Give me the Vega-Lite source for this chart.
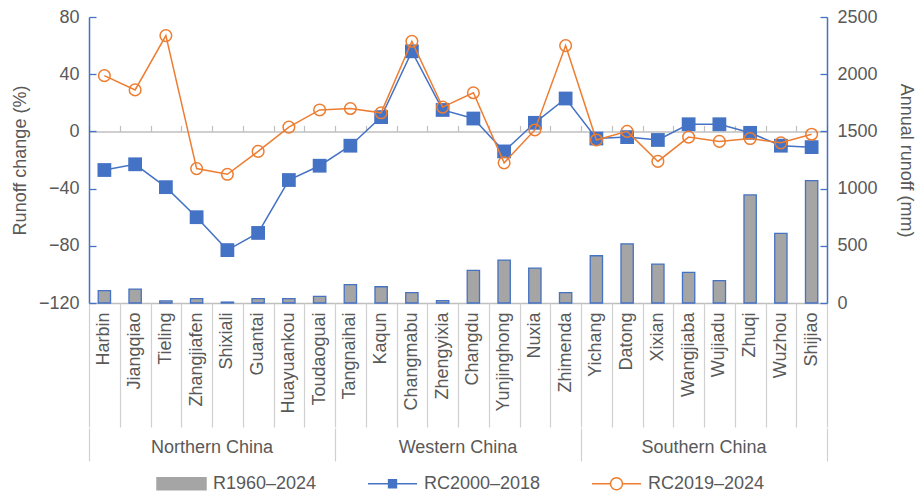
{
  "$schema": "https://vega.github.io/schema/vega-lite/v6.json",
  "background": "white",
  "padding": {"left": 11, "top": 8, "right": 2, "bottom": 0},
  "spacing": 0,
  "config": {
    "view": {"stroke": null},
    "font": "Liberation Sans",
    "axis": {"labelFont": "Liberation Sans", "labelFontSize": 18, "labelColor": "#595959", "titleFont": "Liberation Sans", "titleFontSize": 18, "titleColor": "#595959", "titleFontWeight": "normal", "grid": false},
    "text": {"font": "Liberation Sans"}
  },
  "vconcat": [
    {
      "width": 738,
      "height": 286,
      "data": {"values": [
        {"station": "Harbin", "group": "Northern China", "R": 108, "RC1": -27, "RC2": 39},
        {"station": "Jiangqiao", "group": "Northern China", "R": 122, "RC1": -23, "RC2": 29},
        {"station": "Tieling", "group": "Northern China", "R": 18, "RC1": -39, "RC2": 67},
        {"station": "Zhangjiafen", "group": "Northern China", "R": 38, "RC1": -60, "RC2": -26},
        {"station": "Shixiali", "group": "Northern China", "R": 8, "RC1": -83, "RC2": -30},
        {"station": "Guantai", "group": "Northern China", "R": 38, "RC1": -71, "RC2": -14},
        {"station": "Huayuankou", "group": "Northern China", "R": 38, "RC1": -34, "RC2": 3},
        {"station": "Toudaoguai", "group": "Northern China", "R": 58, "RC1": -24, "RC2": 15},
        {"station": "Tangnaihai", "group": "Western China", "R": 160, "RC1": -10, "RC2": 16},
        {"station": "Kaqun", "group": "Western China", "R": 142, "RC1": 10, "RC2": 13},
        {"station": "Changmabu", "group": "Western China", "R": 90, "RC1": 56, "RC2": 63},
        {"station": "Zhengyixia", "group": "Western China", "R": 20, "RC1": 15, "RC2": 17},
        {"station": "Changdu", "group": "Western China", "R": 285, "RC1": 9, "RC2": 27},
        {"station": "Yunjinghong", "group": "Western China", "R": 375, "RC1": -14, "RC2": -22},
        {"station": "Nuxia", "group": "Western China", "R": 305, "RC1": 6, "RC2": 1},
        {"station": "Zhimenda", "group": "Western China", "R": 90, "RC1": 23, "RC2": 60},
        {"station": "Yichang", "group": "Southern China", "R": 413, "RC1": -5, "RC2": -6},
        {"station": "Datong", "group": "Southern China", "R": 517, "RC1": -4, "RC2": 0},
        {"station": "Xixian", "group": "Southern China", "R": 340, "RC1": -6, "RC2": -21},
        {"station": "Wangjiaba", "group": "Southern China", "R": 267, "RC1": 5, "RC2": -4},
        {"station": "Wujiadu", "group": "Southern China", "R": 195, "RC1": 5, "RC2": -7},
        {"station": "Zhuqi", "group": "Southern China", "R": 945, "RC1": -1, "RC2": -5},
        {"station": "Wuzhou", "group": "Southern China", "R": 608, "RC1": -10, "RC2": -8},
        {"station": "Shijiao", "group": "Southern China", "R": 1070, "RC1": -11, "RC2": -2}
      ]},
      "resolve": {"scale": {"y": "independent"}, "axis": {"x": "independent", "y": "independent"}},
      "layer": [
        {
          "mark": {"type": "bar", "width": {"band": 0.4}, "stroke": "#4472c4", "strokeWidth": 1.3},
          "encoding": {
            "x": {"field": "station", "type": "nominal", "sort": null, "scale": {"paddingInner": 0, "paddingOuter": 0},
              "axis": {"orient": "bottom", "title": null, "labelAngle": -90, "labelAlign": "right", "labelBaseline": "middle", "labelPadding": 9, "ticks": false, "domain": true, "domainColor": "#bfbfbf", "domainWidth": 1.5}},
            "y": {"field": "R", "type": "quantitative", "scale": {"domain": [0, 2500]},
              "axis": {"orient": "right", "title": "Annual runoff (mm)", "values": [0, 500, 1000, 1500, 2000, 2500], "format": "d", "domainColor": "#4472c4", "domainWidth": 1.5, "tickColor": "#4472c4", "tickWidth": 1.3, "tickSize": -7, "labelPadding": 17, "titlePadding": 19}},
            "color": {"datum": "R1960–2024",
              "scale": {"domain": ["R1960–2024", "RC2000–2018", "RC2019–2024"], "range": ["#a5a5a5", "#4472c4", "#ed7d31"]},
              "legend": {
                "orient": "none", "legendX": 67, "legendY": 441, "direction": "horizontal", "columns": 3, "title": null,
                "symbolSize": 2401, "labelFontSize": 18, "labelColor": "#595959", "labelFont": "Liberation Sans", "labelOffset": 6, "columnPadding": 48,
                "encode": {"symbols": {"update": {
                  "shape": {"signal": "datum.value === 'R1960–2024' ? 'M-1,-0.245H1V0.245H-1Z' : datum.value === 'RC2000–2018' ? 'M-1,0H1M-0.16,-0.16H0.16V0.16H-0.16Z' : 'M-1,0H-0.245M0.245,0H1M-0.245,0A0.245,0.245 0 1,1 0.245,0A0.245,0.245 0 1,1 -0.245,0Z'"},
                  "fill": {"signal": "datum.value === 'R1960–2024' ? '#a5a5a5' : datum.value === 'RC2000–2018' ? '#4472c4' : 'transparent'"},
                  "fillOpacity": {"signal": "datum.value === 'RC2019–2024' ? 0 : 1"},
                  "stroke": {"signal": "datum.value === 'RC2019–2024' ? '#ed7d31' : '#4472c4'"},
                  "strokeWidth": {"value": 1.5},
                  "opacity": {"value": 1}
                }}}
              }}
          }
        },
        {
          "mark": {"type": "line", "strokeWidth": 1.5, "point": {"shape": "square", "size": 190, "filled": true, "opacity": 1}},
          "encoding": {
            "x": {"field": "station", "type": "nominal", "sort": null, "scale": {"paddingInner": 0, "paddingOuter": 0},
              "axis": {"orient": "bottom", "title": null, "labels": false, "domain": false, "ticks": true, "tickBand": "extent", "tickSize": 124, "tickColor": "#d0d0d0", "tickWidth": 1.2}},
            "y": {"field": "RC1", "type": "quantitative", "scale": {"domain": [-120, 80]},
              "axis": {"orient": "left", "title": "Runoff change (%)", "values": [-120, -80, -40, 0, 40, 80], "domainColor": "#4472c4", "domainWidth": 1.5, "tickColor": "#4472c4", "tickWidth": 1.3, "tickSize": -7, "labelPadding": 17, "titlePadding": 9}},
            "color": {"datum": "RC2000–2018",
              "legend": {
                "orient": "none", "legendX": 67, "legendY": 441, "direction": "horizontal", "columns": 3, "title": null,
                "symbolSize": 2401, "labelFontSize": 18, "labelColor": "#595959", "labelFont": "Liberation Sans", "labelOffset": 6, "columnPadding": 48,
                "encode": {"symbols": {"update": {
                  "shape": {"signal": "datum.value === 'R1960–2024' ? 'M-1,-0.245H1V0.245H-1Z' : datum.value === 'RC2000–2018' ? 'M-1,0H1M-0.16,-0.16H0.16V0.16H-0.16Z' : 'M-1,0H-0.245M0.245,0H1M-0.245,0A0.245,0.245 0 1,1 0.245,0A0.245,0.245 0 1,1 -0.245,0Z'"},
                  "fill": {"signal": "datum.value === 'R1960–2024' ? '#a5a5a5' : datum.value === 'RC2000–2018' ? '#4472c4' : 'transparent'"},
                  "fillOpacity": {"signal": "datum.value === 'RC2019–2024' ? 0 : 1"},
                  "stroke": {"signal": "datum.value === 'RC2019–2024' ? '#ed7d31' : '#4472c4'"},
                  "strokeWidth": {"value": 1.5},
                  "opacity": {"value": 1}
                }}}
              }}
          }
        },
        {
          "mark": {"type": "line", "strokeWidth": 1.5, "point": {"shape": "circle", "size": 135, "filled": false, "fill": "transparent", "strokeWidth": 1.5, "opacity": 1}},
          "encoding": {
            "x": {"field": "station", "type": "nominal", "sort": null, "scale": {"paddingInner": 0, "paddingOuter": 0},
              "axis": {"orient": "top", "offset": -114.4, "title": null, "labels": false, "domain": true, "domainColor": "#bfbfbf", "domainWidth": 1.5, "ticks": true, "tickBand": "extent", "tickSize": 6, "tickColor": "#bfbfbf", "tickWidth": 1.2}},
            "y": {"field": "RC2", "type": "quantitative", "scale": {"domain": [-120, 80]}, "axis": null},
            "color": {"datum": "RC2019–2024",
              "legend": {
                "orient": "none", "legendX": 67, "legendY": 441, "direction": "horizontal", "columns": 3, "title": null,
                "symbolSize": 2401, "labelFontSize": 18, "labelColor": "#595959", "labelFont": "Liberation Sans", "labelOffset": 6, "columnPadding": 48,
                "encode": {"symbols": {"update": {
                  "shape": {"signal": "datum.value === 'R1960–2024' ? 'M-1,-0.245H1V0.245H-1Z' : datum.value === 'RC2000–2018' ? 'M-1,0H1M-0.16,-0.16H0.16V0.16H-0.16Z' : 'M-1,0H-0.245M0.245,0H1M-0.245,0A0.245,0.245 0 1,1 0.245,0A0.245,0.245 0 1,1 -0.245,0Z'"},
                  "fill": {"signal": "datum.value === 'R1960–2024' ? '#a5a5a5' : datum.value === 'RC2000–2018' ? '#4472c4' : 'transparent'"},
                  "fillOpacity": {"signal": "datum.value === 'RC2019–2024' ? 0 : 1"},
                  "stroke": {"signal": "datum.value === 'RC2019–2024' ? '#ed7d31' : '#4472c4'"},
                  "strokeWidth": {"value": 1.5},
                  "opacity": {"value": 1}
                }}}
              }}
          }
        }
      ]
    },
    {
      "width": 738,
      "height": 33,
      "data": {"values": [{"group": "Northern China"}, {"group": "Western China"}, {"group": "Southern China"}]},
      "mark": {"type": "text", "fontSize": 18, "color": "#595959", "dy": 3},
      "encoding": {
        "x": {"field": "group", "type": "nominal", "sort": null, "scale": {"paddingInner": 0, "paddingOuter": 0},
          "axis": {"title": null, "labels": false, "ticks": false, "domain": false, "grid": true, "tickBand": "extent", "gridColor": "#d0d0d0", "gridWidth": 1.2}},
        "text": {"field": "group"}
      }
    }
  ]
}
